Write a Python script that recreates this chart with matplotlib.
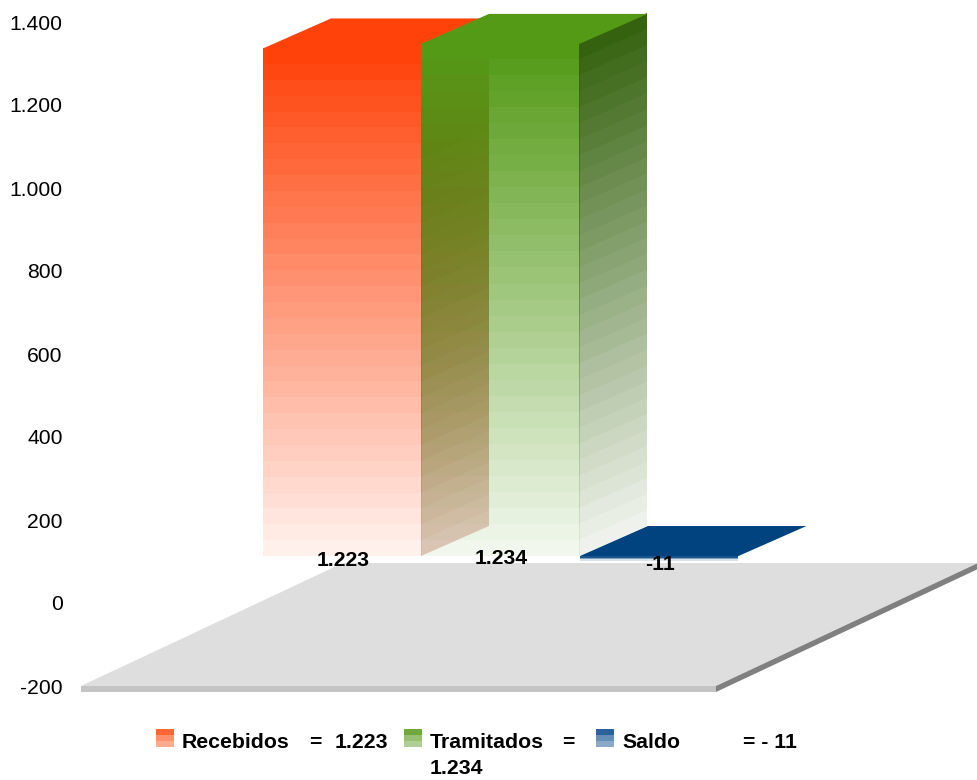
import matplotlib
matplotlib.use("Agg")
import matplotlib.pyplot as plt
import numpy as np
from matplotlib.colors import to_rgb
from matplotlib.patches import Polygon
from matplotlib.transforms import Affine2D

categories = ["Recebidos", "Tramitados", "Saldo"]
values = [1223, 1234, -11]
value_labels = ["1.223", "1.234", "-11"]
ticks = [-200, 0, 200, 400, 600, 800, 1000, 1200, 1400]
tick_labels = ["-200", "0", "200", "400", "600", "800", "1.000", "1.200", "1.400"]

W, H = 978, 780
LEFT = 68
PX = 0.415           # pixels per unit
ZERO = 603           # pixel row of value 0
LIFT = 47 / PX       # bars stand above the zero line in the fake 3d
DX, DY = 68, 30 / PX # depth of the 3d offset
BAR_W = 158.5
BAR_X = [263, 421, 580]

front = ["#ff4209", "#549a17", "#00437f"]
side = ["#a02c10", "#35620f", "#00437f"]
side_boost = [0.18, 0.0, 0.0]
BANDS = 32

plt.rcParams["font.family"] = ["Liberation Sans", "DejaVu Sans"]

fig = plt.figure(figsize=(W / 100, H / 100), dpi=100)
ax = fig.add_axes([LEFT / W, 0, 1 - LEFT / W, 1])
ax.set_xlim(LEFT, W)
ax.set_ylim((ZERO - H) / PX, ZERO / PX)
for s in ax.spines.values():
    s.set_visible(False)
ax.set_xticks([])
ax.set_yticks(ticks)
ax.set_yticklabels(tick_labels, fontsize=15.2)
ax.tick_params(axis="y", length=0, pad=3.7)
xlim, ylim = ax.get_xlim(), ax.get_ylim()


def poly(pts, color, alpha=1.0, z=2):
    ax.add_patch(Polygon(pts, closed=True, facecolor=color, edgecolor="none",
                         alpha=alpha, zorder=z))


def bands(color, x, y, w, h, skew, z, boost=0.0):
    # one column of fading bands stretched on to a (possibly skewed) face
    rgba = np.zeros((BANDS, 1, 4))
    rgba[:, :, :3] = to_rgb(color)
    rgba[:, 0, 3] = np.minimum(1, 0.05 + 0.95 * (np.arange(BANDS) + 1) / BANDS + boost)
    trans = Affine2D(np.array([[w, 0, x], [skew, h, y], [0, 0, 1]])) + ax.transData
    ax.imshow(rgba, origin="lower", extent=(0, 1, 0, 1), aspect="auto",
              interpolation="nearest", transform=trans, zorder=z)


# floor, from the -200 tick back to the bars
y0 = ticks[0]
y_back = y0 + 123 / PX
thick = 6 / PX
poly([(81, y0), (716, y0), (978, y_back), (343, y_back)], "#dedede")
poly([(81, y0), (716, y0), (716, y0 - thick), (81, y0 - thick)], "#c4c4c4")
poly([(716, y0), (978, y_back), (978, y_back - thick), (716, y0 - thick)], "#808080")

# bars, painted back to front with a banded fade towards the base
for i, v in enumerate(values):
    x = BAR_X[i]
    base = LIFT
    z = 3 + i
    if v > 0:
        bands(front[i], x, base, BAR_W, v, 0, z)
        bands(side[i], x + BAR_W, base, DX, v, DY, z, side_boost[i])
        top = base + v
    else:
        top = base
        for b, a in enumerate([0.9, 0.5, 0.15]):
            lo = base + v * b / 3
            hi = base + v * (b + 1) / 3
            poly([(x, lo), (x + BAR_W, lo), (x + BAR_W, hi), (x, hi)], front[i], a, z)
    poly([(x, top), (x + BAR_W, top), (x + BAR_W + DX, top + DY), (x + DX, top + DY)], front[i], 1, z)

ax.set_xlim(xlim)
ax.set_ylim(ylim)

# value labels under each bar
label_y = [560.5, 558.5, 564]
for i, t in enumerate(value_labels):
    ax.text(BAR_X[i] + 80, (ZERO - label_y[i]) / PX, t, ha="center", va="center",
            fontsize=15.2, fontweight="bold", zorder=8)

# legend
swatch = ["#ff6633", "#6fa83c", "#2a6299"]
leg_x = [156, 404, 596]
for i, c in enumerate(swatch):
    for b, a in enumerate([1, 0.72, 0.55]):
        top_px = 729 + b * 6
        y1, y2 = (ZERO - top_px) / PX, (ZERO - top_px - 6) / PX
        poly([(leg_x[i], y1), (leg_x[i] + 18, y1), (leg_x[i] + 18, y2), (leg_x[i], y2)], c, a, 8)

leg_text = [("Recebidos", 182), ("=", 309), ("1.223", 335), ("Tramitados", 430), ("=", 562),
            ("1.234", 430), ("Saldo", 622), ("= - 11", 743)]
for j, (t, px) in enumerate(leg_text):
    py = 769 if j == 5 else 743
    ax.text(px, (ZERO - py) / PX, t, ha="left", va="center", fontsize=15.3,
            fontweight="bold", zorder=8)

fig.savefig("out.png", dpi=100)
